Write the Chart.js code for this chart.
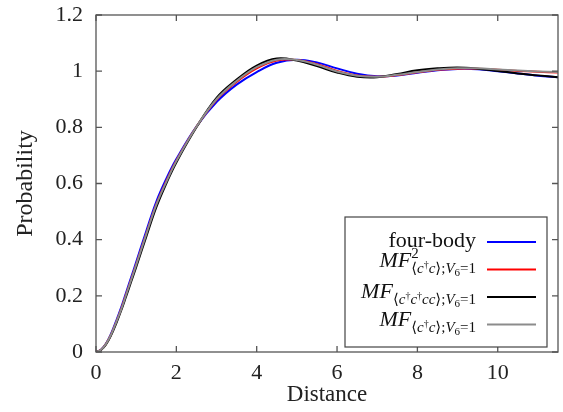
<!DOCTYPE html>
<html>
<head>
<meta charset="utf-8">
<script src="https://cdn.jsdelivr.net/npm/chart.js@4.4.1/dist/chart.umd.min.js"></script>
<style>
  body { margin: 0; background: #fff; }
</style>
</head>
<body>
<canvas id="chart" width="563" height="412"></canvas>
<script>
// Distancias y probabilidades
const distances = [0, 0.125, 0.25, 0.375, 0.5, 0.625, 0.75, 0.875, 1, 1.25, 1.5, 1.75, 2, 2.5, 3, 3.5, 4, 4.5, 5, 5.5, 6, 6.5, 7, 7.5, 8, 8.5, 9, 9.5, 10, 10.5, 11, 11.5];
const fourBody = [0, 0.008, 0.03, 0.065, 0.11, 0.158, 0.212, 0.266, 0.32, 0.43, 0.535, 0.617, 0.687, 0.803, 0.89, 0.952, 0.997, 1.03, 1.041, 1.031, 1.01, 0.991, 0.982, 0.985, 0.994, 1.003, 1.008, 1.007, 1.0, 0.992, 0.984, 0.978];
const mfSquared = [0, 0.008, 0.029, 0.062, 0.105, 0.152, 0.205, 0.258, 0.311, 0.42, 0.525, 0.608, 0.681, 0.802, 0.898, 0.962, 1.01, 1.038, 1.04, 1.025, 1.001, 0.985, 0.98, 0.986, 0.996, 1.005, 1.009, 1.009, 1.005, 1.001, 0.998, 0.995];
const mfFour = [0, 0.007, 0.027, 0.059, 0.1, 0.147, 0.198, 0.25, 0.302, 0.41, 0.515, 0.6, 0.675, 0.8, 0.905, 0.97, 1.02, 1.045, 1.038, 1.018, 0.995, 0.98, 0.978, 0.99, 1.003, 1.01, 1.013, 1.009, 1.001, 0.992, 0.985, 0.978];
const mfTwo = [0, 0.008, 0.029, 0.062, 0.105, 0.151, 0.204, 0.257, 0.31, 0.419, 0.524, 0.606, 0.68, 0.802, 0.9, 0.965, 1.014, 1.041, 1.04, 1.023, 0.999, 0.984, 0.98, 0.987, 0.997, 1.006, 1.01, 1.01, 1.006, 1.002, 0.999, 0.997];

const xTickLabels = ['0', '2', '4', '6', '8', '10'];
const yTickLabels = ['0', '0.2', '0.4', '0.6', '0.8', '1', '1.2'];

const serif = '"Liberation Serif", "DejaVu Serif", serif';

// Etiquetas de la leyenda con subíndices (i = cursiva, s = tamaño, dy = desplazamiento)
const legendRows = [
    { color: '#0000ff', dy: 5, parts: [{ t: 'four-body', s: 22 }] },
    { color: '#ff0000', dy: -3, parts: [
        { t: 'MF', s: 22, i: true },
        { t: '2', s: 15, dy: -9, mark: true },
        { t: '⟨', s: 15, dy: 6, back: true },
        { t: 'c', s: 15, dy: 6, i: true },
        { t: '†', s: 10, dy: 1 },
        { t: 'c', s: 15, dy: 6, i: true },
        { t: '⟩;', s: 15, dy: 6 },
        { t: 'V', s: 15, dy: 6, i: true },
        { t: '6', s: 11, dy: 9 },
        { t: '=1', s: 15, dy: 6 }
    ] },
    { color: '#000000', dy: 1, parts: [
        { t: 'MF', s: 22, i: true },
        { t: '⟨', s: 15, dy: 6 },
        { t: 'c', s: 15, dy: 6, i: true },
        { t: '†', s: 10, dy: 1 },
        { t: 'c', s: 15, dy: 6, i: true },
        { t: '†', s: 10, dy: 1 },
        { t: 'cc', s: 15, dy: 6, i: true },
        { t: '⟩;', s: 15, dy: 6 },
        { t: 'V', s: 15, dy: 6, i: true },
        { t: '6', s: 11, dy: 9 },
        { t: '=1', s: 15, dy: 6 }
    ] },
    { color: '#8c8c8c', dy: 1, parts: [
        { t: 'MF', s: 22, i: true },
        { t: '⟨', s: 15, dy: 6 },
        { t: 'c', s: 15, dy: 6, i: true },
        { t: '†', s: 10, dy: 1 },
        { t: 'c', s: 15, dy: 6, i: true },
        { t: '⟩;', s: 15, dy: 6 },
        { t: 'V', s: 15, dy: 6, i: true },
        { t: '6', s: 11, dy: 9 },
        { t: '=1', s: 15, dy: 6 }
    ] }
];

function richText(ctx, parts, x, y, draw) {
    let cx = x, mark = x, maxX = x;
    parts.forEach(p => {
        ctx.font = (p.i ? 'italic ' : '') + p.s + 'px ' + serif;
        if (p.back) cx = mark;
        if (p.mark) mark = cx;
        if (draw) ctx.fillText(p.t, cx, y + (p.dy || 0));
        cx += ctx.measureText(p.t).width;
        maxX = Math.max(maxX, cx);
    });
    return maxX - x;
}

// Marco con marcas interiores en los cuatro lados
const framePlugin = {
    id: 'frame',
    afterDatasetsDraw(chart) {
        const { ctx, chartArea: a, scales } = chart;
        ctx.save();
        ctx.strokeStyle = '#555';
        ctx.lineWidth = 1.3;
        ctx.strokeRect(a.left, a.top, a.right - a.left, a.bottom - a.top);
        ctx.beginPath();
        scales.x.ticks.forEach(t => {
            const px = scales.x.getPixelForValue(t.value);
            ctx.moveTo(px, a.bottom); ctx.lineTo(px, a.bottom - 6);
            ctx.moveTo(px, a.top); ctx.lineTo(px, a.top + 6);
        });
        scales.y.ticks.forEach(t => {
            const py = scales.y.getPixelForValue(t.value);
            ctx.moveTo(a.left, py); ctx.lineTo(a.left + 6, py);
            ctx.moveTo(a.right, py); ctx.lineTo(a.right - 6, py);
        });
        ctx.stroke();

        // Leyenda
        const box = { x: 345, y: 217, w: 202, h: 130 };
        ctx.fillStyle = '#fff';
        ctx.fillRect(box.x, box.y, box.w, box.h);
        ctx.strokeStyle = '#444';
        ctx.lineWidth = 1.2;
        ctx.strokeRect(box.x, box.y, box.w, box.h);
        const rowY = [242, 269.5, 297, 324.5];
        legendRows.forEach((row, i) => {
            const y = rowY[i];
            ctx.strokeStyle = row.color;
            ctx.lineWidth = 2;
            ctx.beginPath();
            ctx.moveTo(487, y); ctx.lineTo(536, y);
            ctx.stroke();
            ctx.fillStyle = '#111';
            ctx.textBaseline = 'alphabetic';
            const w = richText(ctx, row.parts, 0, 0, false);
            richText(ctx, row.parts, 476 - w, y + row.dy, true);
        });
        ctx.restore();
    }
};

function makeSeries(values) {
    return values.map((v, i) => ({ x: distances[i], y: v }));
}

const ctx = document.getElementById('chart').getContext('2d');
new Chart(ctx, {
    type: 'line',
    data: {
        datasets: [
            { label: 'four-body', data: makeSeries(fourBody), borderColor: '#0000ff', order: 4 },
            { label: 'MF2', data: makeSeries(mfSquared), borderColor: '#ff0000', order: 3 },
            { label: 'MF4', data: makeSeries(mfFour), borderColor: '#000000', order: 2 },
            { label: 'MF', data: makeSeries(mfTwo), borderColor: '#8c8c8c', order: 1 }
        ]
    },
    options: {
        responsive: false,
        animation: false,
        layout: { padding: { top: 15, right: 5, left: 0, bottom: 0 } },
        elements: {
            point: { radius: 0 },
            line: { borderWidth: 2, tension: 0.4 }
        },
        plugins: { legend: { display: false }, tooltip: { enabled: false } },
        scales: {
            x: {
                type: 'linear',
                min: 0,
                max: 11.5,
                grid: { display: false, drawTicks: false },
                border: { display: false },
                afterFit: s => { s.height = 60; s.paddingLeft = 0; s.paddingRight = 0; },
                afterBuildTicks: s => { s.ticks = xTickLabels.map(v => ({ value: Number(v) })); },
                ticks: {
                    padding: 8,
                    color: '#222',
                    font: { family: serif, size: 22 },
                    callback: (v, i) => xTickLabels[i]
                },
                title: {
                    display: true,
                    text: 'Distance',
                    color: '#222',
                    font: { family: serif, size: 23 },
                    padding: { top: 0, bottom: 3 }
                }
            },
            y: {
                min: 0,
                max: 1.2,
                grid: { display: false, drawTicks: false },
                border: { display: false },
                afterFit: s => { s.width = 96; s.paddingTop = 0; s.paddingBottom = 0; },
                afterBuildTicks: s => { s.ticks = yTickLabels.map(v => ({ value: Number(v) })); },
                ticks: {
                    padding: 13,
                    color: '#222',
                    font: { family: serif, size: 22 },
                    callback: (v, i) => yTickLabels[i]
                },
                title: {
                    display: true,
                    text: 'Probability',
                    color: '#222',
                    font: { family: serif, size: 24 },
                    padding: { top: 11, bottom: 0 }
                }
            }
        }
    },
    plugins: [framePlugin]
});
</script>
</body>
</html>
